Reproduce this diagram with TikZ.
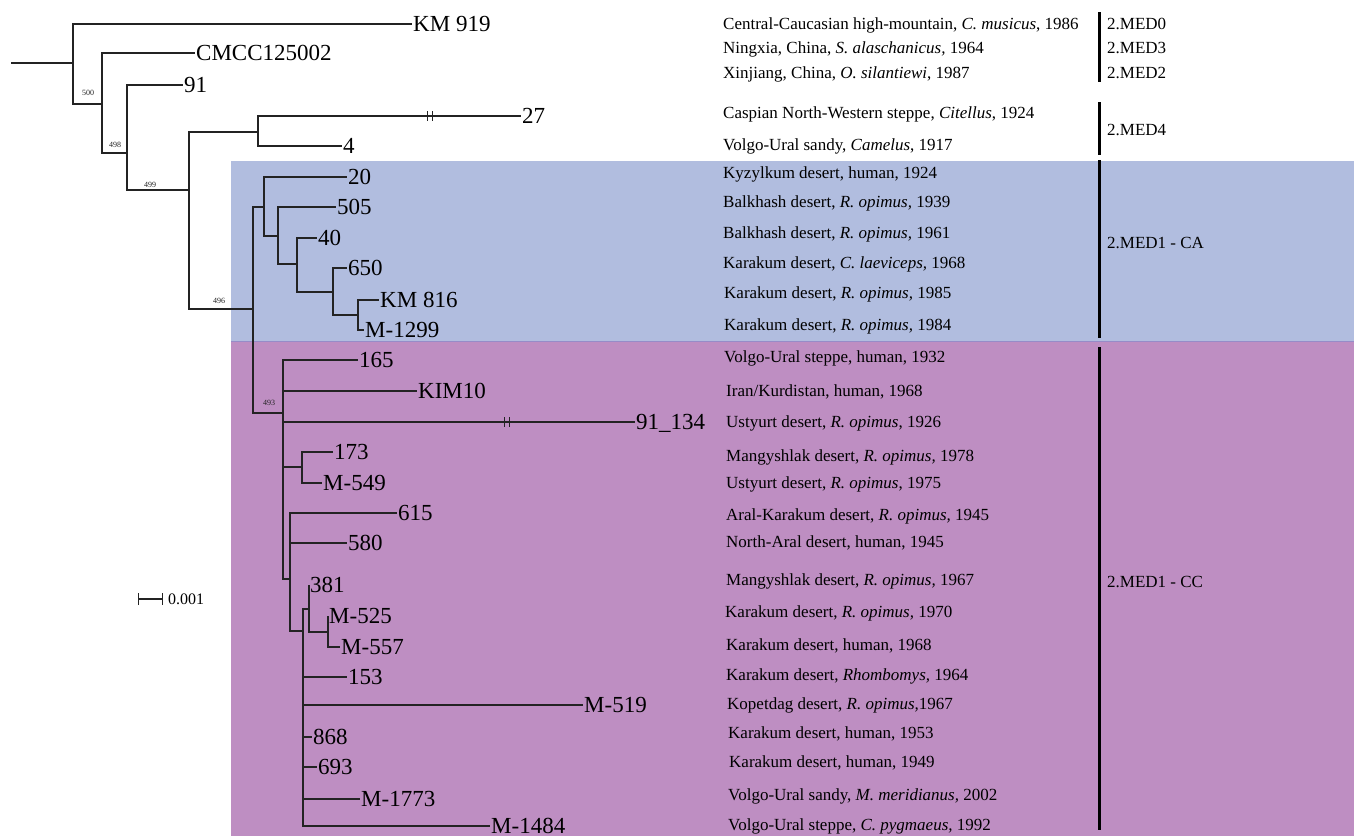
\documentclass[tikz,border=0pt]{standalone}
\usepackage{fontspec}
\setmainfont{Liberation Serif}
\usepackage{tikz}
\usetikzlibrary{arrows.meta}
\definecolor{caBlue}{RGB}{177,189,223}
\definecolor{ccPurple}{RGB}{190,142,194}
\definecolor{caccEdge}{RGB}{150,140,200}
\definecolor{treeLine}{RGB}{35,35,35}

\begin{document}
\begin{tikzpicture}[x=1pt,y=-1pt]
            \tikzstyle{branch}=[draw=treeLine,line width=1.4pt]
            \tikzstyle{break mark}=[draw=treeLine,line width=1pt]
            \tikzstyle{tip}=[anchor=west,inner sep=1pt,text height=15.4pt,text depth=0pt,font=\fontsize{23}{25}\selectfont]
            \tikzstyle{info}=[anchor=west,inner sep=0pt,text height=11.3pt,text depth=0pt,font=\fontsize{17}{19}\selectfont]
            \tikzstyle{boot}=[inner sep=0pt,text=treeLine,font=\fontsize{8}{9}\selectfont]
            \tikzstyle{group bar}=[draw=black,line width=3pt]
            \useasboundingbox (0,0) rectangle (1354,836);

            % clade backgrounds
            \fill[caBlue] (231,161) rectangle (1354,341);
            \fill[ccPurple] (231,341) rectangle (1354,836);
            \draw[caccEdge,line width=0.6pt] (231,341) -- (1354,341);

            % internal nodes
            \coordinate (r0) at (11,63);
            \coordinate (n1) at (73,63);
            \coordinate (n500) at (102,104);
            \coordinate (n498) at (127,153);
            \coordinate (n499) at (189,190);
            \coordinate (n4) at (258,132);
            \coordinate (n496) at (253,309);
            \coordinate (nA) at (264,207);
            \coordinate (nB) at (278,236);
            \coordinate (nC) at (297,264);
            \coordinate (nD) at (333,292);
            \coordinate (nE) at (358,315);
            \coordinate (n493) at (283,413);
            \coordinate (nF) at (302,467);
            \coordinate (nG) at (290,579);
            \coordinate (nH) at (303,631);
            \coordinate (nI) at (309,609);
            \coordinate (nJ) at (328,632);

            % tips
            \node[tip] (t919) at (412,24) {KM 919};
            \node[tip] (tCMCC) at (195,53) {CMCC125002};
            \node[tip] (t91) at (183,85) {91};
            \node[tip] (t27) at (521,116) {27};
            \node[tip] (t4) at (342,146) {4};
            \node[tip] (t20) at (347,177) {20};
            \node[tip] (t505) at (336,207) {505};
            \node[tip] (t40) at (317,238) {40};
            \node[tip] (t650) at (347,268) {650};
            \node[tip] (tKM816) at (379,300) {KM 816};
            \node[tip] (tM1299) at (364,330) {M-1299};
            \node[tip] (t165) at (358,360) {165};
            \node[tip] (tKIM10) at (417,391) {KIM10};
            \node[tip] (t91134) at (635,422) {91\_134};
            \node[tip] (t173) at (333,452) {173};
            \node[tip] (tM549) at (322,483) {M-549};
            \node[tip] (t615) at (397,513) {615};
            \node[tip] (t580) at (347,543) {580};
            \node[tip] (t381) at (309,585) {381};
            \node[tip] (tM525) at (328,616) {M-525};
            \node[tip] (tM557) at (340,647) {M-557};
            \node[tip] (t153) at (347,677) {153};
            \node[tip] (tM519) at (583,705) {M-519};
            \node[tip] (t868) at (312,737) {868};
            \node[tip] (t693) at (317,767) {693};
            \node[tip] (tM1773) at (360,799) {M-1773};
            \node[tip] (tM1484) at (490,826) {M-1484};

            % branches
            \draw[branch] (r0) -- (n1);
            \draw[branch] (n1) |- (t919.west);
            \draw[branch] (n1) |- (n500);
            \draw[branch] (n500) |- (tCMCC.west);
            \draw[branch] (n500) |- (n498);
            \draw[branch] (n498) |- (t91.west);
            \draw[branch] (n498) |- (n499);
            \draw[branch] (n499) |- (n4);
            \draw[branch] (n499) |- (n496);
            \draw[branch] (n4) |- (t27.west);
            \draw[branch] (n4) |- (t4.west);
            \draw[branch] (n496) |- (nA);
            \draw[branch] (n496) |- (n493);
            \draw[branch] (nA) |- (t20.west);
            \draw[branch] (nA) |- (nB);
            \draw[branch] (nB) |- (t505.west);
            \draw[branch] (nB) |- (nC);
            \draw[branch] (nC) |- (t40.west);
            \draw[branch] (nC) |- (nD);
            \draw[branch] (nD) |- (t650.west);
            \draw[branch] (nD) |- (nE);
            \draw[branch] (nE) |- (tKM816.west);
            \draw[branch] (nE) |- (tM1299.west);
            \draw[branch] (n493) |- (t165.west);
            \draw[branch] (n493) |- (tKIM10.west);
            \draw[branch] (n493) |- (t91134.west);
            \draw[branch] (n493) |- (nF);
            \draw[branch] (n493) |- (nG);
            \draw[branch] (nF) |- (t173.west);
            \draw[branch] (nF) |- (tM549.west);
            \draw[branch] (nG) |- (t615.west);
            \draw[branch] (nG) |- (t580.west);
            \draw[branch] (nG) |- (nH);
            \draw[branch] (nH) |- (nI);
            \draw[branch] (nH) |- (t153.west);
            \draw[branch] (nH) |- (tM519.west);
            \draw[branch] (nH) |- (t868.west);
            \draw[branch] (nH) |- (t693.west);
            \draw[branch] (nH) |- (tM1773.west);
            \draw[branch] (nH) |- (tM1484.west);
            \draw[branch] (nI) |- (t381.west);
            \draw[branch] (nI) |- (nJ);
            \draw[branch] (nJ) |- (tM525.west);
            \draw[branch] (nJ) |- (tM557.west);

            % broken long branches
            \draw[break mark] (427.5,111) -- (427.5,121) (432.5,111) -- (432.5,121);
            \draw[break mark] (504.5,417) -- (504.5,427) (509.5,417) -- (509.5,427);

            % bootstrap values
            \node[boot] (b500) at (88,93) {500};
            \node[boot] (b498) at (115,145) {498};
            \node[boot] (b499) at (150,185) {499};
            \node[boot] (b496) at (219,301) {496};
            \node[boot] (b493) at (269,403) {493};

            % scale
            \coordinate (sbL) at (138,599);
            \coordinate (sbR) at (163,599);
            \draw[branch,{Bar[width=12pt]}-{Bar[width=12pt]}] (sbL) -- (sbR);
            \node[anchor=west,inner sep=0pt,text height=10.8pt,text depth=0pt,font=\fontsize{16}{18}\selectfont] (scale) at (168,599) {0.001};

            % isolate data
            \node[info] (i1) at (723,24) {Central-Caucasian high-mountain, \textit{C. musicus}, 1986};
            \node[info] (i2) at (723,48) {Ningxia, China, \textit{S. alaschanicus,} 1964};
            \node[info] (i3) at (723,73) {Xinjiang, China, \textit{O. silantiewi}, 1987};
            \node[info] (i4) at (723,113) {Caspian North-Western steppe, \textit{Citellus}, 1924};
            \node[info] (i5) at (723,145) {Volgo-Ural sandy, \textit{Camelus}, 1917};
            \node[info] (i6) at (723,173) {Kyzylkum desert, human, 1924};
            \node[info] (i7) at (723,202) {Balkhash desert, \textit{R. opimus,} 1939};
            \node[info] (i8) at (723,233) {Balkhash desert, \textit{R. opimus,} 1961};
            \node[info] (i9) at (723,263) {Karakum desert, \textit{C. laeviceps,} 1968};
            \node[info] (i10) at (724,293) {Karakum desert, \textit{R. opimus,} 1985};
            \node[info] (i11) at (724,325) {Karakum desert, \textit{R. opimus,} 1984};
            \node[info] (i12) at (724,357) {Volgo-Ural steppe, human, 1932};
            \node[info] (i13) at (726,391) {Iran/Kurdistan, human, 1968};
            \node[info] (i14) at (726,422) {Ustyurt desert, \textit{R. opimus}, 1926};
            \node[info] (i15) at (726,456) {Mangyshlak desert, \textit{R. opimus,} 1978};
            \node[info] (i16) at (726,483) {Ustyurt desert, \textit{R. opimus}, 1975};
            \node[info] (i17) at (726,515) {Aral-Karakum desert, \textit{R. opimus,} 1945};
            \node[info] (i18) at (726,542) {North-Aral desert, human, 1945};
            \node[info] (i19) at (726,580) {Mangyshlak desert, \textit{R. opimus,} 1967};
            \node[info] (i20) at (725,612) {Karakum desert, \textit{R. opimus,} 1970};
            \node[info] (i21) at (726,645) {Karakum desert, human, 1968};
            \node[info] (i22) at (726,675) {Karakum desert, \textit{Rhombomys,} 1964};
            \node[info] (i23) at (727,704) {Kopetdag desert, \textit{R. opimus,}1967};
            \node[info] (i24) at (728,733) {Karakum desert, human, 1953};
            \node[info] (i25) at (729,762) {Karakum desert, human, 1949};
            \node[info] (i26) at (728,795) {Volgo-Ural sandy, \textit{M. meridianus,} 2002};
            \node[info] (i27) at (728,825) {Volgo-Ural steppe, \textit{C. pygmaeus,} 1992};

            % groups
            \draw[group bar] (1099,12) -- (1099,82);
            \draw[group bar] (1099,102) -- (1099,155);
            \draw[group bar] (1099,160) -- (1099,338);
            \draw[group bar] (1099,347) -- (1099,830);
            \node[info] (g0) at (1107,24) {2.MED0};
            \node[info] (g3) at (1107,48) {2.MED3};
            \node[info] (g2) at (1107,73) {2.MED2};
            \node[info] (g4) at (1107,130) {2.MED4};
            \node[info] (gCA) at (1107,243) {2.MED1 - CA};
            \node[info] (gCC) at (1107,582) {2.MED1 - CC};
        \end{tikzpicture}
\end{document}
